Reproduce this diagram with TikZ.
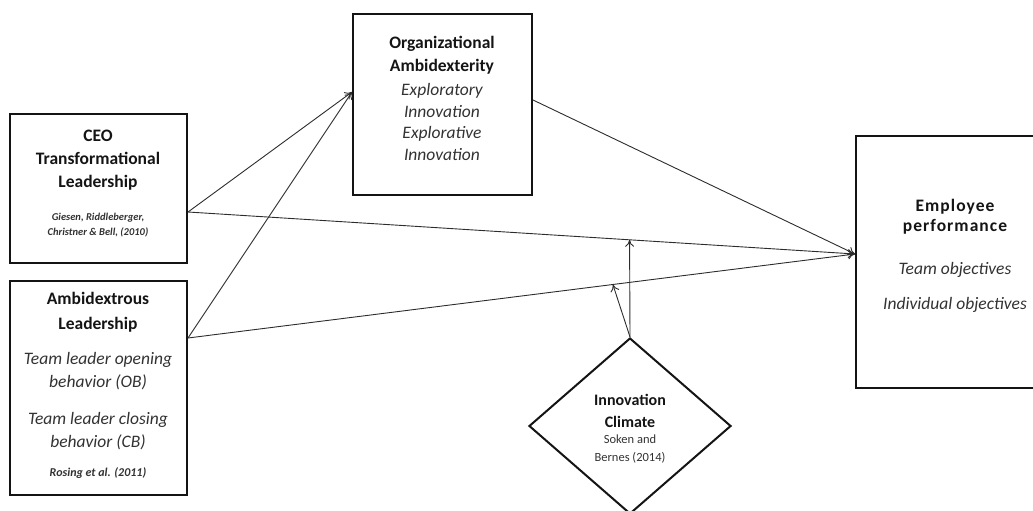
\documentclass[tikz,border=0pt]{standalone}
\usepackage{fontspec}
\setmainfont{Carlito}
\usetikzlibrary{shapes.geometric,arrows.meta,calc}
\definecolor{ink}{RGB}{20,20,20}
\definecolor{soft}{RGB}{50,50,50}
\tikzset{
  boxnode/.style={draw=ink, line width=2pt, minimum width=#1, inner sep=0pt},
  conn/.style={draw=ink!90, line width=0.9pt, -{To[length=7pt,width=9pt]}},
  titletxt/.style={font=\fontsize{17.5}{23}\selectfont\bfseries, text=ink, align=center, inner sep=0pt},
  itxt/.style={font=\fontsize{17.5}{23}\selectfont\itshape, text=soft, align=center, inner sep=0pt},
  reftxt/.style={font=\fontsize{10.5}{15}\selectfont\bfseries\itshape, text=soft, align=center, inner sep=0pt},
  smalltxt/.style={font=\fontsize{12.5}{18}\selectfont, text=soft, align=center, inner sep=0pt}
}
\begin{document}
\begin{tikzpicture}[x=1pt,y=-1pt]
\useasboundingbox (0,0) rectangle (1033,511);
% boxes
\node[boxnode=177pt, minimum height=149pt] (ceo) at (98.5,188.5) {};
\node[boxnode=177pt, minimum height=214pt] (ambi) at (98.5,388) {};
\node[boxnode=179pt, minimum height=181pt] (org) at (442.5,104.5) {};
\node[boxnode=198pt, minimum height=252pt] (emp) at (955,262) {};
\node[diamond, draw=ink, line width=2pt, minimum width=202pt, minimum height=176pt, inner sep=0pt] (clim) at (630,426) {};
% texts
\node[titletxt] (ceoT) at (98,160) {CEO\\Transformational\\Leadership};
\node[reftxt] (ceoR) at (98,225) {Giesen, Riddleberger,\\Christner \& Bell, (2010)};
\node[titletxt, font=\fontsize{17.5}{25}\selectfont\bfseries] (ambiT) at (98,312) {Ambidextrous\\Leadership};
\node[itxt] (ambiA) at (98,371) {Team leader opening\\behavior (OB)};
\node[itxt] (ambiB) at (98,431) {Team leader closing\\behavior (CB)};
\node[reftxt, font=\fontsize{12}{15}\selectfont\bfseries\itshape] (ambiR) at (98,473) {Rosing et al. (2011)};
\node[titletxt] (orgT) at (442,55) {Organizational\\Ambidexterity};
\node[itxt, font=\fontsize{17.5}{21.5}\selectfont\itshape] (orgI) at (442,122) {Exploratory\\Innovation\\Explorative\\Innovation};
\node[titletxt, font=\fontsize{17.5}{20}\selectfont\bfseries\addfontfeature{LetterSpace=6}] (empT) at (955,217) {Employee\\performance};
\node[itxt] (empA) at (955,270) {Team objectives};
\node[itxt] (empB) at (955,305) {Individual objectives};
\node[titletxt, font=\fontsize{16}{22}\selectfont\bfseries] (climT) at (630,411) {Innovation\\Climate};
\node[smalltxt] (climR) at (630,449) {Soken and\\Bernes (2014)};
% connector end points on the boxes
\coordinate (ceoOut) at ([yshift=-23.5pt]ceo.east);
\coordinate (ambiOut) at ([yshift=50pt]ambi.east);
\coordinate (orgIn) at ([yshift=12.5pt]org.west);
\coordinate (orgOut) at ([yshift=4.5pt]org.east);
\coordinate (empIn) at ([yshift=8pt]emp.west);
\coordinate (m1) at ($(ceoOut)!0.662!(empIn)$);
\coordinate (m2) at ($(ambiOut)!0.637!(empIn)$);
% connectors
\draw[conn] (ceoOut) -- (orgIn);
\draw[conn] (ambiOut) -- (orgIn);
\draw[conn] (ceoOut) -- (empIn);
\draw[conn] (ambiOut) -- (empIn);
\draw[conn] (orgOut) -- (empIn);
\draw[conn] (clim.north) -- (m1);
\draw[conn] (clim.north) -- (m2);
\end{tikzpicture}
\end{document}
